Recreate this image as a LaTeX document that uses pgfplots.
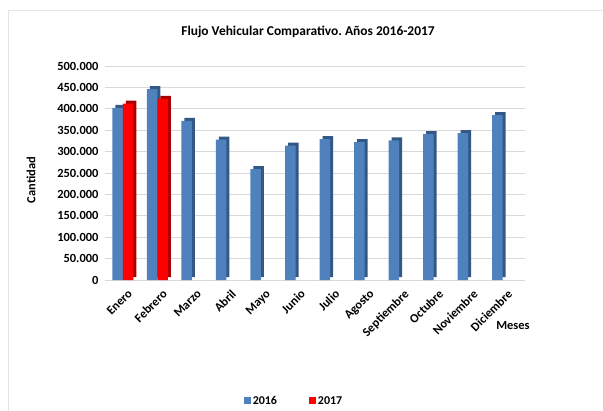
\documentclass[border=0pt]{standalone}
\usepackage{pgfplots}
\pgfplotsset{compat=1.18}
\usepackage{fontspec}
\setmainfont{Carlito}
\frenchspacing

\definecolor{barblue}{RGB}{79,129,189}
\definecolor{barblueside}{RGB}{52,88,134}
\definecolor{barred}{RGB}{255,0,0}
\definecolor{barredside}{RGB}{170,0,0}
\definecolor{gridgray}{RGB}{217,217,217}

\begin{document}
\begin{tikzpicture}[x=1bp,y=1bp]
\useasboundingbox (0,0) rectangle (603,410);
\draw[gray!20, line width=0.8bp] (8,-1) -- (8,400) -- (604,400);

\begin{axis}[
    at={(105bp,130bp)}, anchor=south west,
    scale only axis,
    width=420bp, height=214bp,
    ybar,
    xmin=-0.52, xmax=11.65,
    ymin=0, ymax=500000,
    ytick={0,50000,100000,150000,200000,250000,300000,350000,400000,450000,500000},
    yticklabels={0,50.000,100.000,150.000,200.000,250.000,300.000,350.000,400.000,450.000,500.000},
    xtick={0,...,11},
    xticklabels={Enero,Febrero,Marzo,Abril,Mayo,Junio,Julio,Agosto,Septiembre,Octubre,Noviembre,Diciembre},
    axis line style={draw=none},
    major tick length=0pt,
    ymajorgrids=true,
    grid style={gridgray, line width=0.8bp},
    scaled y ticks=false,
    ticklabel style={font=\bfseries\fontsize{12.5}{14}\selectfont},
    yticklabel style={xshift=-3bp},
    xticklabel style={rotate=45, anchor=north east, inner sep=1bp, yshift=-8bp, xshift=-2bp},
    bar width=10.5bp,
    legend style={at={(0.45,-0.565)}, anchor=center, draw=none, legend columns=2,
        font=\bfseries\fontsize{12}{14}\selectfont,
        /tikz/every even column/.append style={column sep=30bp}},
    legend image code/.code={\fill[#1] (0bp,-3.5bp) rectangle (7bp,3.5bp);},
]
% 3D side faces
\addplot[fill=barblueside, draw=none, bar shift=-2.25bp, yshift=3bp, forget plot]
    coordinates {(0,402000)(1,446000)(2,372000)(3,328000)(4,259000)(5,314000)
                 (6,329000)(7,322000)(8,326000)(9,341000)(10,343000)(11,385000)};
\addplot[fill=barblue, draw=none, bar shift=-5.25bp]
    coordinates {(0,402000)(1,446000)(2,372000)(3,328000)(4,259000)(5,314000)
                 (6,329000)(7,322000)(8,326000)(9,341000)(10,343000)(11,385000)};
\addlegendentry{2016}
\addplot[fill=barredside, draw=none, bar shift=8.25bp, yshift=3bp, forget plot]
    coordinates {(0,412000)(1,423000)};
\addplot[fill=barred, draw=none, bar shift=5.25bp]
    coordinates {(0,412000)(1,423000)};
\addlegendentry{2017}
\end{axis}

\node[font=\bfseries\fontsize{13.5}{16}\selectfont] at (308,378) {Flujo Vehicular Comparativo. Años 2016-2017};
\node[font=\bfseries\fontsize{12.5}{14}\selectfont, rotate=90] at (31,230) {Cantidad};
\node[font=\bfseries\fontsize{12.5}{14}\selectfont] at (513,84) {Meses};
\end{tikzpicture}
\end{document}
